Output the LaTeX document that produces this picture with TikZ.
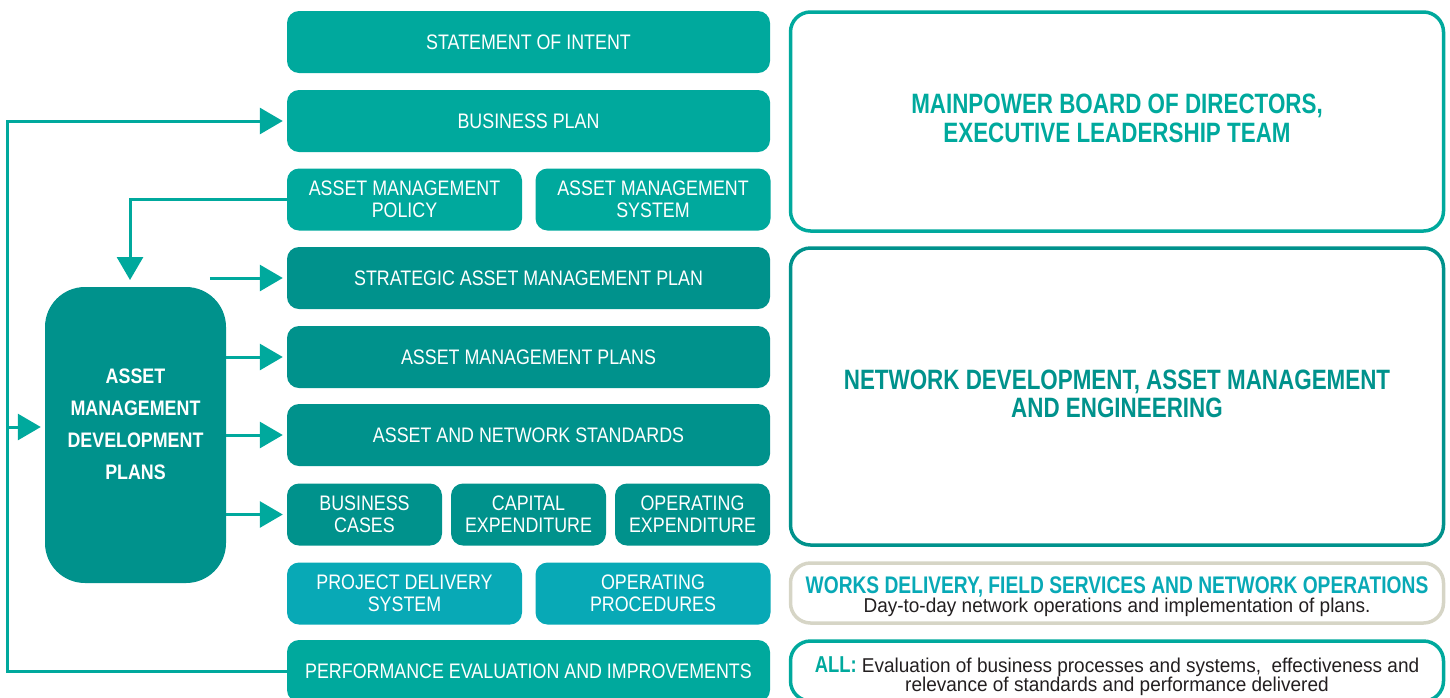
\documentclass[tikz,border=0pt]{standalone}
\usepackage{fontspec}
\setmainfont{Liberation Sans}
\newfontfamily\condfont{Liberation Sans}[FakeStretch=0.85]
\newfontfamily\headfont{Liberation Sans}[FakeStretch=0.80]
\newfontfamily\bodyfont{Liberation Sans}[FakeStretch=0.95]
\usetikzlibrary{arrows.meta,calc}

\definecolor{tealA}{RGB}{0,169,157}
\definecolor{tealB}{RGB}{0,146,140}
\definecolor{cyanC}{RGB}{8,169,182}
\definecolor{stone}{RGB}{214,213,198}
\definecolor{ink}{RGB}{35,31,32}

\tikzset{
  x=1pt, y=-1pt,
  plate/.style={rectangle, rounded corners=12pt, inner sep=0pt, minimum height=62pt,
    text=white, align=center, font=\condfont\fontsize{21}{22}\selectfont},
  wide/.style={plate, minimum width=483pt},
  half/.style={plate, minimum width=235pt},
  third/.style={plate, minimum width=155pt},
  frame/.style={rectangle, rounded corners=20pt, line width=3.5pt, inner sep=0pt,
    minimum width=653pt, align=center},
  heading/.style={font=\headfont\bfseries\fontsize{28}{29}\selectfont},
  caption/.style={align=center, inner sep=0pt},
  link/.style={draw=tealA, line width=3pt},
  flow/.style={link, -{Triangle[length=23pt,width=26pt]}, shorten >=4pt},
}

\begin{document}
\begin{tikzpicture}
\useasboundingbox (0,0) rectangle (1450,697);
\clip (0,0) rectangle (1450,697);

% central column of plan documents
\node[wide, fill=tealA] (soi)   at (528.5,42)  {STATEMENT OF INTENT};
\node[wide, fill=tealA] (bplan) at (528.5,121) {BUSINESS PLAN};
\node[half, fill=tealA] (policy) at (404.5,199.5) {ASSET MANAGEMENT\\POLICY};
\node[half, fill=tealA] (system) at (653,199.5)   {ASSET MANAGEMENT\\SYSTEM};
\node[wide, fill=tealB] (samp)  at (528.5,278) {STRATEGIC ASSET MANAGEMENT PLAN};
\node[wide, fill=tealB] (amp)   at (528.5,357) {ASSET MANAGEMENT PLANS};
\node[wide, fill=tealB] (ans)   at (528.5,435) {ASSET AND NETWORK STANDARDS};
\node[third, fill=tealB] (cases) at (364.5,514.5) {BUSINESS\\CASES};
\node[third, fill=tealB] (capex) at (528.5,514.5) {CAPITAL\\EXPENDITURE};
\node[third, fill=tealB] (opex)  at (692.5,514.5) {OPERATING\\EXPENDITURE};
\node[half, fill=cyanC] (pds)    at (404.5,593.5) {PROJECT DELIVERY\\SYSTEM};
\node[half, fill=cyanC] (opproc) at (653,593.5)   {OPERATING\\PROCEDURES};
\node[wide, fill=tealA] (perf)  at (528.5,671) {PERFORMANCE EVALUATION AND IMPROVEMENTS};

% development plans block
\node[rectangle, rounded corners=40pt, fill=tealB, minimum width=181pt, minimum height=296pt,
  inner sep=0pt, text=white, align=center,
  font=\condfont\bfseries\fontsize{21}{32}\selectfont] (amdp) at (135.5,435)
  {ASSET\\MANAGEMENT\\DEVELOPMENT\\PLANS\\[-10pt]};

% responsibility frames
\node[frame, draw=tealA, minimum height=219pt, text=tealA, heading] (board) at (1117,121.5)
  {MAINPOWER BOARD OF DIRECTORS,\\EXECUTIVE LEADERSHIP TEAM\\[-22pt]};
\node[frame, draw=tealB, minimum height=297pt, text=tealB, heading,
  font=\headfont\bfseries\fontsize{28}{28}\selectfont] (ndam) at (1117,396.5)
  {NETWORK DEVELOPMENT, ASSET MANAGEMENT\\AND ENGINEERING\\[-22pt]};
\node[frame, draw=stone, minimum height=60pt] (works) at (1117,593) {};
\node[frame, draw=tealA, minimum height=60pt] (all) at (1117,671) {};

\node[caption] (worksT) at ($(works.center)+(0,4)$)
  {\headfont\bfseries\fontsize{24}{22}\selectfont\color{cyanC}WORKS DELIVERY, FIELD SERVICES AND NETWORK OPERATIONS\\
   \bodyfont\fontsize{20}{22}\selectfont\color{ink}Day-to-day network operations and implementation of plans.};
\node[caption] (allT) at ($(all.center)+(0,5)$)
  {\bodyfont\fontsize{20}{22}\selectfont\color{ink}{\headfont\bfseries\fontsize{23}{22}\selectfont\color{tealA}ALL:}
   Evaluation of business processes and systems,\ \ effectiveness and\\
   \bodyfont\fontsize{20}{22}\selectfont\color{ink}relevance of standards and performance delivered};

% feedback loop from evaluation back to planning
\coordinate (rail) at (7,0);
\coordinate (railin) at (7,427);
\draw[flow] (perf.west) -- (perf.west -| rail) |- (bplan.west);
\draw[flow] (railin) -- (railin -| amdp.west);

% policy feeds the development plans
\coordinate (drop) at (130,287);
\draw[flow, shorten >=7pt] (policy.west) -| (drop);

% development plans feed the plan documents
\draw[flow] ($(samp.west)+(-77,0)$) -- (samp.west);
\draw[flow] (amdp.east |- amp.west) -- (amp.west);
\draw[flow] (amdp.east |- ans.west) -- (ans.west);
\draw[flow] (amdp.east |- cases.west) -- (cases.west);
\end{tikzpicture}
\end{document}
